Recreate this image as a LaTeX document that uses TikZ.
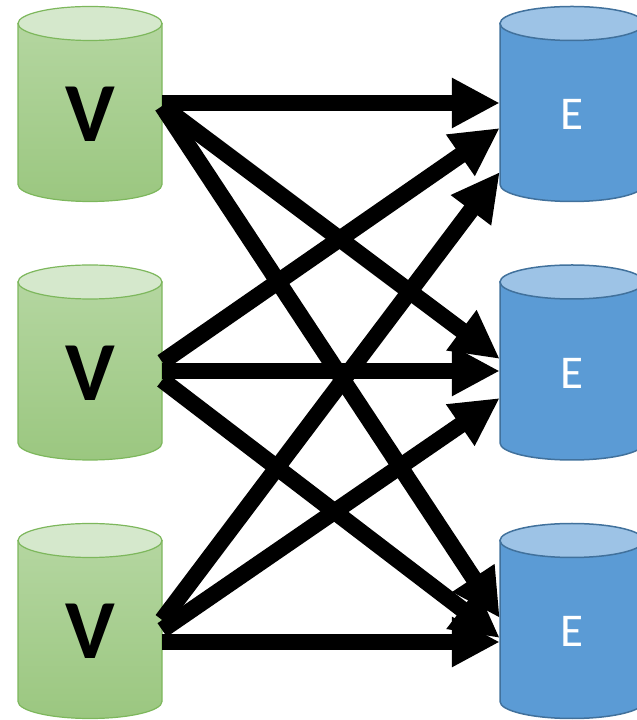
\documentclass[tikz,border=0pt]{standalone}
\usepackage{fontspec}
\setmainfont{Carlito}
\usepackage{tikz}
\usetikzlibrary{arrows.meta}

\definecolor{vbodytop}{RGB}{180,214,160}
\definecolor{vbodybot}{RGB}{155,199,128}
\definecolor{vcap}{RGB}{213,232,204}
\definecolor{vedge}{RGB}{125,183,92}
\definecolor{ebody}{RGB}{91,155,213}
\definecolor{ecap}{RGB}{157,195,230}
\definecolor{eedge}{RGB}{65,113,156}

\begin{document}
\begin{tikzpicture}[
    x=1pt, y=1pt,
    vdb/.style={rectangle, minimum width=144pt, inner sep=0pt, text=black, font=\fontsize{84}{84}\selectfont\bfseries},
    edb/.style={rectangle, minimum width=144pt, inner sep=0pt, text=white, font=\fontsize{47}{47}\selectfont},
    line/.style={draw, line width=16.5pt, -{Triangle[length=48pt, width=47pt]}}
]
\useasboundingbox (0,0) rectangle (637,720);

% Cylinders
\foreach \ty/\n in {696.5/1, 438/2, 179.5/3} {
  \shade[top color=vbodytop, bottom color=vbodybot, draw=vedge, line width=1.2pt]
    (18,\ty) -- ++(0,-161) arc[start angle=180, end angle=360, x radius=72, y radius=17] -- ++(0,161) -- cycle;
  \filldraw[fill=vcap, draw=vedge, line width=1.2pt] (90,\ty) ellipse[x radius=72, y radius=17];
  \node [vdb] (v\n) at (90,\ty-91) {V};

  \filldraw[fill=ebody, draw=eedge, line width=1.5pt]
    (500,\ty) -- ++(0,-161) arc[start angle=180, end angle=360, x radius=72, y radius=17] -- ++(0,161) -- cycle;
  \filldraw[fill=ecap, draw=eedge, line width=1.5pt] (572,\ty) ellipse[x radius=72, y radius=17];
  \node [edb] (e\n) at (572,\ty-91) {E};
}

% Edges
\path [line] ([yshift=11.5pt]v1.east) -- ([yshift=11.5pt]e1.west);
\path [line] ([yshift=8.5pt]v1.east) -- ([yshift=14pt]e2.west);
\path [line] ([yshift=8.5pt]v1.east) -- ([yshift=13.5pt]e3.west);

\path [line] ([yshift=11pt]v2.east) -- ([yshift=-13.5pt]e1.west);
\path [line] ([yshift=2pt]v2.east) -- ([yshift=2pt]e2.west);
\path [line] ([yshift=-7pt]v2.east) -- ([yshift=-6.5pt]e3.west);

\path [line] ([yshift=11.5pt]v3.east) -- ([yshift=-57.5pt]e1.west);
\path [line] ([yshift=1.5pt]v3.east) -- ([yshift=-25pt]e2.west);
\path [line] ([yshift=-10.5pt]v3.east) -- ([yshift=-10.5pt]e3.west);
\end{tikzpicture}
\end{document}
